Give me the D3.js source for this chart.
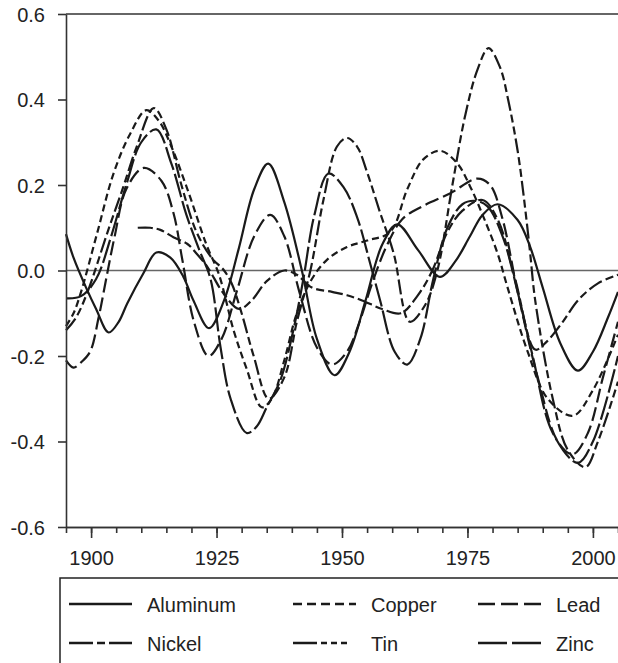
<!DOCTYPE html>
<html lang="en">
<head>
<meta charset="UTF-8">
<title>Metal price super cycles</title>
<script src="https://d3js.org/d3.v7.min.js"></script>
<style>
    body { margin: 0; background: #fff; }
    text { font-family: "Liberation Sans", Arial, sans-serif; fill: #222; }
</style>
</head>
<body>
<svg id="chart" width="618" height="663"></svg>
<script>
    // [year, value] pairs
    var aluminum = [[1895,0.085],[1896.5,0.03],[1899,-0.04],[1901,-0.09],[1903.5,-0.145],[1905.5,-0.12],[1907.2,-0.077],[1910.4,-0.007],[1913,0.042],[1915.8,0.03],[1918.4,-0.015],[1920.4,-0.07],[1923.5,-0.135],[1926.5,-0.07],[1929.4,0.05],[1932.5,0.19],[1935.3,0.25],[1938.5,0.16],[1942,0.0],[1945,-0.16],[1948.5,-0.245],[1951.5,-0.19],[1954.7,-0.07],[1958,0.06],[1961,0.108],[1965.2,0.047],[1969.5,-0.015],[1972.5,0.02],[1975.5,0.08],[1978,0.13],[1981,0.155],[1985,0.118],[1987.5,0.055],[1990,-0.04],[1993.5,-0.17],[1997,-0.234],[2000,-0.19],[2003,-0.11],[2005,-0.05]];

    var copper = [[1895,-0.13],[1896.5,-0.1],[1898,-0.05],[1901.2,0.087],[1904.5,0.228],[1907.8,0.32],[1911,0.375],[1913.5,0.35],[1916,0.29],[1919.2,0.19],[1923,0.06],[1925.5,-0.01],[1928.4,-0.14],[1931,-0.23],[1934,-0.32],[1936,-0.3],[1938.5,-0.21],[1941,-0.1],[1944,-0.02],[1947,0.025],[1951,0.055],[1955,0.07],[1959.6,0.09],[1963,0.19],[1966.2,0.26],[1969.6,0.28],[1973,0.25],[1975.6,0.195],[1978.2,0.125],[1981,0.04],[1983,-0.04],[1987,-0.19],[1991,-0.3],[1996,-0.34],[2000,-0.28],[2005,-0.15]];

    var lead = [[1895,-0.21],[1896.5,-0.227],[1898,-0.215],[1899.8,-0.19],[1901.5,-0.11],[1903,-0.02],[1904.7,0.08],[1907,0.19],[1910.5,0.24],[1914,0.21],[1916.4,0.135],[1918.2,0.024],[1920.5,-0.12],[1923.4,-0.2],[1926,-0.16],[1929,-0.05],[1932.5,0.08],[1935.7,0.13],[1938.5,0.08],[1941.5,-0.05],[1945,-0.18],[1948,-0.22],[1951,-0.19],[1953.5,-0.12],[1956,-0.03],[1959,0.06],[1962,0.12],[1966,0.15],[1971.5,0.18],[1977,0.215],[1979.5,0.2],[1982,0.12],[1985,-0.05],[1989,-0.25],[1993,-0.4],[1996,-0.43],[1999,-0.38],[2002,-0.25],[2005,-0.12]];

    var nickel = [[1909.3,0.1],[1911.8,0.1],[1913.8,0.095],[1916.4,0.078],[1919.2,0.062],[1921,0.04],[1923.2,0.008],[1926.4,-0.054],[1929.5,-0.09],[1932,-0.07],[1935,-0.025],[1938.5,0.0],[1941,-0.01],[1944,-0.04],[1948,-0.05],[1951,-0.058],[1954,-0.07],[1958,-0.09],[1961.7,-0.1],[1965,-0.06],[1968,0.0],[1971,0.09],[1974,0.14],[1978,0.165],[1981,0.12],[1984.5,-0.02],[1988.5,-0.185],[1990.5,-0.17],[1994,-0.12],[1997,-0.07],[2001,-0.03],[2005,-0.01]];

    var tin = [[1895,-0.14],[1897,-0.11],[1899.3,-0.05],[1903.2,0.087],[1906.4,0.195],[1909.1,0.29],[1912.5,0.38],[1915,0.33],[1918,0.2],[1921,0.09],[1924,0.03],[1926.5,0.0],[1928,-0.03],[1930,-0.1],[1932.4,-0.2],[1935.4,-0.3],[1938.5,-0.25],[1941,-0.12],[1943.7,0.0],[1946.3,0.165],[1949,0.29],[1951,0.31],[1953,0.29],[1955,0.23],[1957.6,0.135],[1960.3,0.04],[1963.5,-0.12],[1966.6,-0.08],[1969,0.0],[1972,0.2],[1974.5,0.36],[1977,0.47],[1979.2,0.52],[1981.5,0.475],[1983.1,0.4],[1985,0.28],[1986.3,0.165],[1987.5,0.04],[1988.5,-0.07],[1992,-0.3],[1995,-0.42],[1998.5,-0.46],[2001,-0.4],[2005,-0.26]];

    var zinc = [[1895,-0.065],[1898,-0.06],[1901,-0.02],[1904,0.08],[1907,0.2],[1910,0.3],[1913,0.33],[1916,0.25],[1919,0.13],[1921.5,0.05],[1923.8,-0.02],[1925.8,-0.18],[1927.8,-0.3],[1931,-0.38],[1933,-0.365],[1935,-0.32],[1937.7,-0.257],[1940.3,-0.14],[1942.3,-0.02],[1944.5,0.13],[1947.3,0.227],[1950.3,0.195],[1953,0.125],[1955.6,0.017],[1957.6,-0.07],[1960.5,-0.19],[1963,-0.22],[1965.6,-0.16],[1968.2,-0.02],[1971,0.1],[1974,0.155],[1976.6,0.163],[1979,0.15],[1982,0.08],[1985,-0.05],[1988,-0.2],[1992,-0.38],[1997,-0.45],[2000,-0.4],[2005,-0.2]];

    var names = ["Aluminum", "Copper", "Lead", "Nickel", "Tin", "Zinc"];
    var seriesValues = [aluminum, copper, lead, nickel, tin, zinc];
    var yTicks = [-0.6, -0.4, -0.2, 0.0, 0.2, 0.4, 0.6];
    var xTicks = [1900, 1925, 1950, 1975, 2000];
    var xMinorTicks = d3.range(1895, 2006, 5);

    // dash patterns for the plot and the (slightly longer) legend samples
    var plotDash = ["none", "7,4", "14,5", "15,4,8,4", "15,4,8,4,8,4", "24,4"];
    var legendDash = ["none", "9,5", "17,6", "24,4,8,4", "24,4,6,4,6,4,6,10", "29,5"];

    var svg = d3.select("#chart");

    var xScale = d3.scaleLinear().domain([1895, 2005]).range([66, 618]);
    var yScale = d3.scaleLinear().domain([-0.6, 0.6]).range([527, 14]);

    // zero line
    svg.append("line")
        .attr("x1", xScale(1895)).attr("x2", xScale(2005))
        .attr("y1", yScale(0)).attr("y2", yScale(0))
        .attr("stroke", "#666").attr("stroke-width", 1.6);

    // top frame line
    svg.append("line")
        .attr("x1", xScale(1895)).attr("x2", xScale(2005))
        .attr("y1", yScale(0.6)).attr("y2", yScale(0.6))
        .attr("stroke", "#333").attr("stroke-width", 1.6);

    var line = d3.line()
        .x(function (d) { return xScale(d[0]); })
        .y(function (d) { return yScale(d[1]); })
        .curve(d3.curveCatmullRom.alpha(0.5));

    svg.append("g").selectAll("path")
        .data(seriesValues)
        .enter().append("path")
        .attr("d", line)
        .attr("fill", "none")
        .attr("stroke", "#1a1a1a")
        .attr("stroke-width", 2.2)
        .attr("stroke-dasharray", function (d, i) { return plotDash[i]; });

    // y axis
    var yAxis = svg.append("g")
        .attr("transform", "translate(" + xScale(1895) + ",0)")
        .call(d3.axisLeft(yScale).tickValues(yTicks).tickSize(8).tickSizeOuter(0).tickPadding(13)
            .tickFormat(function (d) { return d.toFixed(1); }));

    // x axis: minor then major ticks
    var xMinor = svg.append("g")
        .attr("transform", "translate(0," + yScale(-0.6) + ")")
        .call(d3.axisBottom(xScale).tickValues(xMinorTicks).tickSize(6).tickSizeOuter(0).tickFormat(""));
    var xAxis = svg.append("g")
        .attr("transform", "translate(0," + yScale(-0.6) + ")")
        .call(d3.axisBottom(xScale).tickValues(xTicks).tickSize(11).tickSizeOuter(0).tickPadding(13)
            .tickFormat(d3.format("d")));

    svg.selectAll(".domain, .tick line").attr("stroke", "#333").attr("stroke-width", 1.6);
    svg.selectAll(".tick text")
        .attr("fill", "#222")
        .style("font-size", "20px")
        .style("font-family", "'Liberation Sans', Arial, sans-serif");
    yAxis.selectAll(".tick text").attr("dy", "0.36em");

    // legend box, running off the right and bottom edges
    svg.append("rect")
        .attr("x", 60).attr("y", 578)
        .attr("width", 600).attr("height", 120)
        .attr("fill", "none").attr("stroke", "#222").attr("stroke-width", 1.5);

    var colX = [69, 293, 478];
    var rowY = [604, 643];
    var legend = svg.append("g").selectAll("g")
        .data(names)
        .enter().append("g")
        .attr("transform", function (d, i) {
            return "translate(" + colX[i % 3] + "," + rowY[Math.floor(i / 3)] + ")";
        });

    legend.append("line")
        .attr("x1", 0).attr("x2", 63)
        .attr("stroke", "#1a1a1a").attr("stroke-width", 2.4)
        .attr("stroke-dasharray", function (d, i) { return legendDash[i]; });

    legend.append("text")
        .attr("x", 78).attr("y", 8)
        .style("font-size", "20px")
        .text(function (d) { return d; });
</script>
</body>
</html>
